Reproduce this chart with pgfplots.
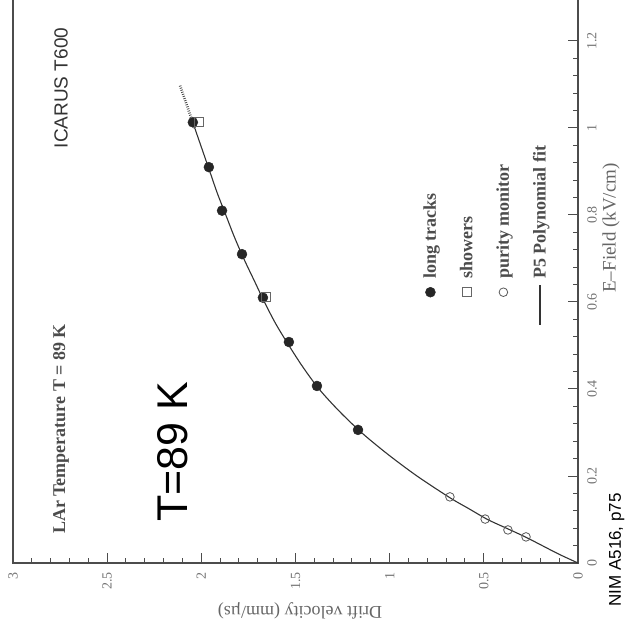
\documentclass[border=0pt]{standalone}
\usepackage{fontspec}
\setmainfont{Liberation Serif}
\newfontfamily\sansf{Liberation Sans}
\usepackage{pgfplots}
\pgfplotsset{compat=1.18}
\pgfplotsset{fitlegend/.style={legend image code/.code={\draw[##1] (-0.85cm,0cm) -- (0.55cm,0cm);}}}

\begin{document}
\begin{tikzpicture}
\begin{scope}[rotate=90, transform shape]
\begin{axis}[
  scale only axis, width=578.55pt, height=565pt,
  xmin=0, xmax=1.33, ymin=0, ymax=3,
  clip=false,
  xtick={0,0.2,0.4,0.6,0.8,1,1.2},
  ytick={0,0.5,1,1.5,2,2.5,3},
  minor x tick num=4, minor y tick num=4,
  tick pos=left, tick align=inside,
  major tick length=10pt, minor tick length=5pt,
  axis line style={black!70, line width=1.3pt},
  every tick/.style={black!70, line width=1pt},
  /pgf/number format/assume math mode=true,
  tick label style={font=\fontsize{14}{14}\selectfont, text=black!55},
  xticklabel style={anchor=north, inner sep=0pt, yshift=-9pt},
  yticklabel style={anchor=east, inner sep=0pt, xshift=-9pt},
  xlabel={E--Field (kV/cm)},
  ylabel={Drift velocity (mm/\textmu s)},
  every axis x label/.style={at={(axis description cs:0.579,-0.0584)}, anchor=center,
    font=\fontsize{19}{19}\selectfont, text=black!60},
  every axis y label/.style={at={(axis description cs:-0.083,0.492)}, rotate=90, anchor=center,
    font=\fontsize{18}{18}\selectfont, text=black!60},
  legend style={draw=none, fill=none, at={(axis description cs:0.405,0.281)},
    anchor=north west, font=\fontsize{18}{18}\bfseries, text=black!70,
    row sep=18.5pt, column sep=4pt, cells={anchor=west}},
]
\addplot[only marks, mark=*, mark size=5pt, black!85] coordinates {
  (1.013,2.045) (0.910,1.960) (0.810,1.890) (0.710,1.784)
  (0.610,1.673) (0.508,1.535) (0.407,1.386) (0.306,1.168)};
\addlegendentry{long tracks}
\addplot[only marks, mark=square, mark size=4.5pt, black!60, thick] coordinates {
  (1.013,2.013) (0.612,1.657)};
\addlegendentry{showers}
\addplot[only marks, mark=o, mark size=4.3pt, black!65, thick] coordinates {
  (0.152,0.680) (0.101,0.493) (0.076,0.372) (0.060,0.276)};
\addlegendentry{purity monitor}
\addplot[black!80, line width=1.1pt, smooth, fitlegend] coordinates {
  (0,0) (0.02,0.10) (0.04,0.19) (0.06,0.28) (0.08,0.38) (0.10,0.48)
  (0.125,0.58) (0.15,0.68) (0.20,0.855) (0.25,1.01) (0.30,1.15)
  (0.35,1.27) (0.40,1.375) (0.45,1.46) (0.50,1.535) (0.55,1.605)
  (0.60,1.665) (0.65,1.72) (0.70,1.775) (0.75,1.825) (0.80,1.87)
  (0.85,1.915) (0.90,1.955) (0.95,1.995) (1.00,2.035)};
\addlegendentry{P5 Polynomial fit}
\addplot[black!70, line width=2.6pt, dash pattern=on 0.8pt off 1.4pt, forget plot] coordinates {
  (1.00,2.035) (1.05,2.075) (1.10,2.115)};

\node[font=\sansf\fontsize{19}{19}\selectfont, text=black!80] at (axis cs:1.092,2.745) {ICARUS T600};
\node[font=\fontsize{18}{18}\bfseries, text=black!70] at (axis cs:0.308,2.745) {LAr Temperature T = 89 K};
\node[font=\sansf\fontsize{43}{43}\selectfont] at (axis cs:0.255,2.154) {T=89 K};
\node[font=\sansf\fontsize{17}{17}\selectfont] at (axis cs:0.03,-0.205) {NIM A516, p75};
\end{axis}
\end{scope}
\pgfresetboundingbox
\path (-578pt,-72pt) rectangle (49pt,563pt);
\end{tikzpicture}
\end{document}
